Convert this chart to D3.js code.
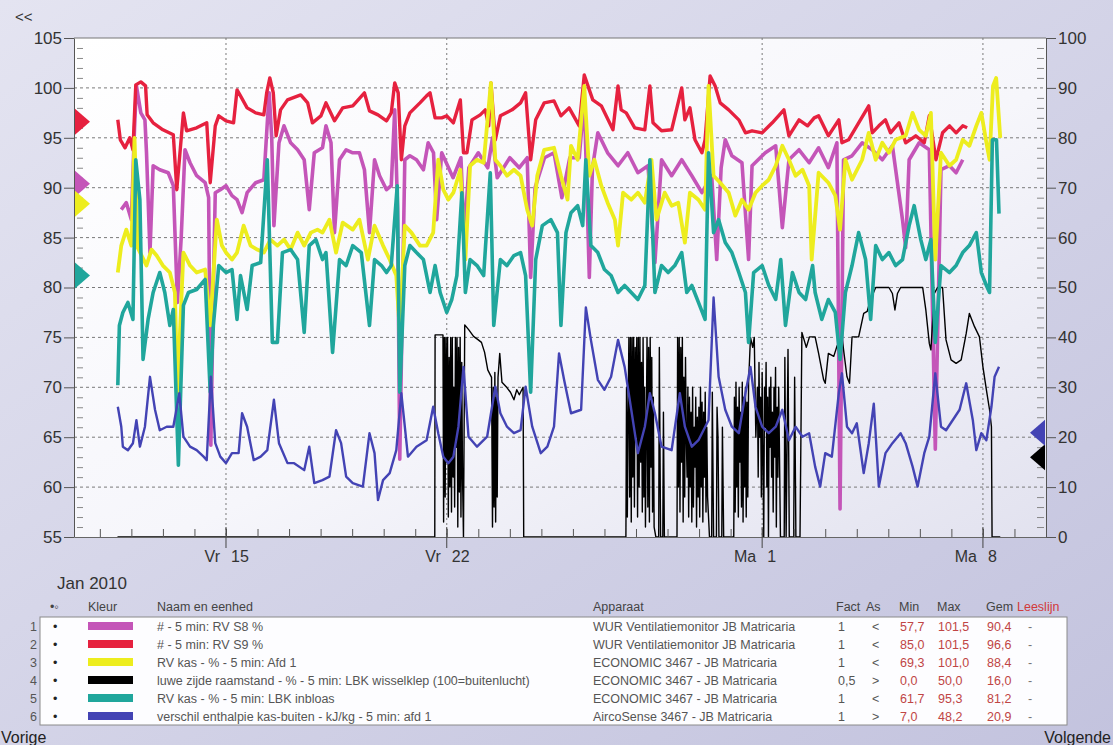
<!DOCTYPE html>
<html>
<head>
<meta charset="utf-8">
<script src="https://cdn.jsdelivr.net/npm/d3@7"></script>
<style>
body { margin: 0; background: #d4d4ea; }
svg text { font-family: "Liberation Sans", Arial, sans-serif; }
</style>
</head>
<body>
<svg id="chart" width="1113" height="745"></svg>
<script>
// ---- data (day number: 1 = 1 Jan 2010, 32 = 1 Feb 2010) ----
const rvS8 = [[11.68,87.8],[11.84,88.5],[12.0,86.8],[12.1,96],[12.16,100.2],[12.3,97.5],[12.43,96.8],[12.48,93.5],[12.59,83.5],[12.69,92.2],[12.9,91.8],[13.17,91.5],[13.33,90.2],[13.46,78.5],[13.58,85],[13.7,93.8],[13.86,92.5],[14.07,91.2],[14.34,90.5],[14.45,89],[14.52,64.2],[14.6,80],[14.66,89.5],[14.82,89.8],[15.0,90.2],[15.19,89.2],[15.35,88.8],[15.51,87.5],[15.67,89.5],[15.94,90.5],[16.2,90.8],[16.3,96],[16.37,99.5],[16.45,95],[16.52,86.2],[16.68,94.5],[16.84,96.2],[17.05,94.5],[17.27,93.8],[17.48,92.8],[17.64,87.8],[17.8,93.5],[18.06,94],
  [18.17,96.2],[18.33,94.5],[18.44,85.5],[18.6,92.8],[18.81,93.8],[19.02,93.5],[19.23,93.5],[19.39,91.8],[19.55,85.5],[19.71,92.8],[19.87,91.2],[20.09,89.8],[20.24,90.2],[20.35,97.8],[20.44,88],[20.51,62.8],[20.6,80],[20.67,92.8],[20.83,93.2],[21.04,92.8],[21.26,91.8],[21.41,94.5],[21.58,93.5],[21.68,86.8],[21.84,93.5],[22.2,91],[22.45,93],[22.55,85],[22.7,92],[23.0,93.5],[23.3,92],[23.45,95],[23.6,91],[24.0,93],[24.3,92],[24.55,93],[24.66,81],[24.8,90],[25.1,93],[25.4,93.5],[25.65,89],[25.9,93],
  [26.2,93],[26.36,99],[26.52,81],[26.62,92],[26.79,95.5],[27.1,93.5],[27.43,92.2],[27.74,93.5],[28.06,91.5],[28.38,92.2],[28.6,82.5],[28.81,92.8],[29.13,91.2],[29.45,92.8],[29.77,91.2],[30.09,89.5],[30.4,91.2],[30.56,82.8],[30.7,92],[30.83,94.8],[31.04,93.2],[31.36,92.5],[31.57,82.8],[31.68,92.2],[32.1,93.5],[32.43,94.2],[32.64,86],[32.85,92.8],[33.17,93.8],[33.49,92.5],
  [33.79,94],[34.1,92],[34.37,94.5],[34.47,57.8],[34.58,92.8],[34.85,93.2],[35.17,94.5],[35.49,93.8],[35.81,92.8],[36.13,94.2],[36.45,86.8],[36.55,84],[36.66,92.8],[36.98,94.5],[37.3,93.8],[37.49,63.8],[37.67,91.8],[37.94,92.2],[38.15,91.5],[38.36,92.8]];

const rvS9 = [[11.57,96.8],[11.65,94.8],[11.8,94],[11.95,95],[12.05,93.8],[12.14,100.3],[12.3,100.6],[12.45,100.2],[12.5,97.3],[12.69,96.5],[13.0,95.8],[13.33,95.3],[13.44,89.8],[13.65,97.5],[13.75,95.7],[14.07,96],[14.39,96.5],[14.5,90.5],[14.66,96.2],[14.77,97.2],[15.0,96.7],[15.24,96.5],[15.35,99.8],[15.46,99.2],[15.67,98],[15.94,97.5],[16.2,97.3],[16.29,99.5],[16.39,101],[16.5,99.5],[16.59,95.2],[16.73,97.8],[16.95,98.8],[17.37,99.3],[17.59,98.5],[17.74,96.5],[18.01,97.2],
  [18.17,98.5],[18.44,96.7],[18.7,98],[19.02,98.2],[19.39,99.5],[19.55,97.7],[19.82,97.3],[20.09,96.7],[20.24,97.5],[20.35,100.5],[20.46,99.5],[20.56,92.8],[20.67,96.2],[20.83,97.5],[21.15,98.5],[21.36,99.2],[21.47,99.5],[21.63,97],[21.84,97],[22.0,97.2],[22.21,96.5],[22.43,98.8],[22.53,93.5],[22.64,93.5],[22.8,96.8],[23.06,97.3],[23.22,97.8],[23.33,96.2],[23.4,100.5],[23.54,94.8],[23.7,97.2],[24.07,97.8],[24.34,98.5],[24.5,99.5],[24.66,92.8],[24.82,96.8],[25.09,98.5],[25.4,98.7],[25.62,97.2],[25.88,98],
  [26.2,96.2],[26.36,101.3],[26.52,99.8],[26.63,98.8],[26.9,98.2],[27.27,95.8],[27.43,100.2],[27.53,97.8],[27.69,97.5],[27.96,96],[28.28,95.8],[28.44,100.2],[28.54,96.5],[28.81,95.7],[29.13,95.8],[29.45,100],[29.55,96.8],[29.71,98],[29.87,94.8],[30.09,93.5],[30.19,94.8],[30.35,101.2],[30.51,100.2],[30.67,98.5],[30.94,97.8],[31.26,96.8],[31.47,95.5],[31.68,95.7],[32.0,95.5],[32.32,96.5],[32.69,97.8],[32.85,95.2],[33.17,96.8],[33.44,96.2],[33.65,97],
  [33.79,97.2],[34.1,95.2],[34.43,96.8],[34.53,94.5],[34.74,94.8],[35.06,96.5],[35.38,98.2],[35.49,95.5],[35.7,96.2],[35.91,96.8],[36.07,95.5],[36.34,96.5],[36.55,94.5],[36.87,95.2],[37.14,94.5],[37.3,97.2],[37.51,92.8],[37.72,95.5],[37.94,96.2],[38.15,95.5],[38.36,96.2],[38.5,96]];

const rvAfd1 = [[11.57,81.5],[11.68,84.2],[11.84,85.8],[12.0,84.2],[12.1,95],[12.2,84],[12.48,82.2],[12.64,83.8],[12.8,83.2],[13.0,82.2],[13.22,81.5],[13.38,79.5],[13.46,69.5],[13.65,83.5],[13.86,82.2],[14.07,81.5],[14.34,81.8],[14.5,76.2],[14.71,86.8],[14.87,84.2],[15.0,83.5],[15.19,82.8],[15.35,83.5],[15.56,86.2],[15.78,84.2],[15.99,83.8],[16.2,83.5],[16.41,84.8],[16.63,84.2],[16.84,84.8],[17.05,83.8],[17.27,85.5],[17.48,84.2],[17.69,85.5],[17.9,85.8],[18.06,85.5],
  [18.28,86.8],[18.49,83.5],[18.7,86.5],[19.02,85.8],[19.23,86.8],[19.5,82.8],[19.71,86.2],[19.98,84.2],[20.19,82.8],[20.4,81.2],[20.51,75.5],[20.67,86.2],[20.88,85.5],[21.15,84.2],[21.36,84.2],[21.57,85.5],[21.73,92.8],[21.89,89.8],[22.05,88.8],[22.21,89.5],[22.43,91.8],[22.59,82.8],[22.74,92.2],[22.96,92.8],[23.17,92.5],[23.4,100.5],[23.54,92.8],[23.7,92.2],[23.91,91.2],[24.13,91.8],[24.34,91.2],[24.55,87.8],[24.71,86.2],[24.87,91.2],[25.09,93.8],[25.4,94],[25.62,91.2],[25.83,88.8],
  [25.94,94.2],[26.15,92.8],[26.36,100.2],[26.52,91.2],[26.68,92.8],[26.9,90.2],[27.1,88.5],[27.33,86.8],[27.43,84.2],[27.59,89.5],[27.85,88.8],[28.06,89.5],[28.28,88.5],[28.49,92.8],[28.65,86.8],[28.91,89.5],[29.13,88.2],[29.34,88.5],[29.55,84.5],[29.71,89.5],[29.98,88.8],[30.19,87.8],[30.3,100.2],[30.46,91.2],[30.67,90.5],[30.94,89.5],[31.15,87.2],[31.36,88.8],[31.57,87.8],[31.79,89.5],[32.0,90.2],[32.21,90.8],[32.43,92.2],[32.64,94.2],[32.85,92.8],[33.06,91.2],[33.28,91.8],[33.49,90.2],
  [33.57,82.8],[33.79,91.5],[34.1,90.5],[34.32,89.2],[34.47,85.8],[34.64,92.8],[34.85,90.8],[35.17,92.8],[35.38,95.5],[35.6,92.8],[35.81,94.5],[36.02,93.5],[36.23,94.8],[36.55,95.2],[36.77,97.5],[36.98,95.8],[37.19,95.2],[37.35,97.5],[37.49,82.8],[37.67,93.5],[37.94,92.2],[38.15,92.8],[38.36,94.8],[38.57,94.2],[38.79,96.2],[38.95,97.5],[39.11,94.5],[39.21,92.8],[39.32,100.2],[39.42,101],[39.55,95]];

// raamstand (right axis): plain pairs plus dense bursts of 5-minute switching
const raamPairs = [[11.56,0],[21.62,0],[21.63,40.5],[21.88,40.5],
  [22.53,0],[22.57,42.5],[22.7,41.5],[22.85,40.2],[23.0,39.5],[23.1,39],[23.2,37],[23.3,33.5],[23.42,32],
  [23.68,36.8],[23.75,31],[23.9,30],[24.02,29],[24.13,27.5],[24.22,29.5],[24.3,28.5],[24.42,30],[24.44,0],[27.68,0],
  [28.63,0],[28.72,0],[28.74,38],[28.78,0],[28.85,0],[28.87,25],[28.9,0],[29.3,0],
  [30.33,0],[30.4,0],[30.42,29],[30.46,0],[30.55,0],[30.57,26],[30.6,20],[30.63,0],[30.72,0],[30.74,22],[30.78,0],[31.1,0],
  [31.63,40],[31.7,38],[31.75,40],[31.8,20],
  [32.58,0],[32.7,0],[32.72,36],[32.76,0],[32.82,37.6],[32.86,0],[33.0,0],[33.03,32],[33.07,0],[33.2,0],[33.26,41],[33.4,38],[33.5,40.1],[33.68,40.1],[33.79,36.8],[33.95,31.5],[34.0,30.8],[34.1,36.8],[34.27,36.2],[34.37,38.2],[34.53,40.1],[34.69,32.1],[34.77,30.8],[34.85,40.1],[35.06,40.1],[35.22,44.8],[35.33,45.2],[35.43,47.5],[35.6,50],[36.02,50],[36.13,48.8],[36.21,45.5],[36.29,48.8],[36.39,50],[37.09,50],[37.19,45.5],[37.3,38.8],[37.35,37.5],[37.46,48.8],[37.56,50],[37.72,50],[37.83,39.5],[37.99,35.5],[38.15,34.8],[38.31,35.5],[38.47,40.8],[38.57,44.8],[38.73,42.2],[38.89,40.1],[39.0,34.1],[39.11,29.5],[39.21,25.5],[39.27,22.1],[39.29,0],[39.55,0]];
const burstStep = 0.025;
const raamBurst1 = [21.9, [3,40,8,40,15,40,4,36,10,40,5,40,12,30,6,40,18,40,2,38,9,40,4,35,12]];
const raamBurst2 = [23.45, [2,30,6,33,3,28,8,32]];
const raamBurst3 = [27.7, [30,4,25,40,8,40,3,40,12,40,6,38,20,40,4,40,10,40,15,35,5,40,8,30,2,20,40,6,38,3,40,14,36,5,28,2]];
const raamBurst4 = [29.32, [40,10,40,5,38,15,40,3,32,8,36,20,12,30,4,28,10,25,3,30,6,22,14,28,2,24,8,26,4,30,10,27,3,25,12,29,5,22,8]];
const raamBurst5 = [31.12, [28,5,31,10,26,4,30,15,25,6,31,3,28,10,30,4,27,8,31]];
const raamBurst6 = [31.85, [30,12,35,20,28,8,33,15,0,30,22,35,10,28,0,30,18,32,12,25,5,30,16,34,2,26,12,30]];

const rvInbloas = [[11.57,70.2],[11.62,76.2],[11.73,77.5],[11.89,78.5],[12.05,76.8],[12.14,92.8],[12.27,88.8],[12.37,72.8],[12.53,76.8],[12.69,79.5],[12.9,81.5],[13.06,79.5],[13.22,76.2],[13.33,77.8],[13.49,62.2],[13.65,78.2],[13.81,79.5],[14.07,79.8],[14.34,80.8],[14.5,69.5],[14.6,76.2],[14.77,82.2],[15.0,81.5],[15.19,81.8],[15.35,76.8],[15.46,81.2],[15.67,77.8],[15.83,82.2],[16.1,82.5],[16.31,92.8],[16.47,74.5],[16.63,74.5],[16.79,83.5],[17.05,83.8],[17.27,82.8],[17.48,75.5],[17.64,84.2],[17.85,84.8],[18.06,82.8],
  [18.17,83.5],[18.38,73.5],[18.6,82.8],[18.81,82.2],[19.02,84.2],[19.29,83.5],[19.55,76.2],[19.71,82.8],[19.93,82.2],[20.09,81.5],[20.24,82.2],[20.43,90.2],[20.51,69.5],[20.67,82.2],[20.83,84.2],[21.04,83.5],[21.26,82.8],[21.47,79.5],[21.63,82.2],[21.79,79.5],[22.0,77.5],[22.16,78.8],[22.32,81.2],[22.48,89.5],[22.59,79.5],[22.74,82.8],[22.96,82.2],[23.17,81.2],[23.38,91.5],[23.49,76.2],[23.7,82.8],[23.91,82.2],[24.13,83.2],[24.34,83.5],[24.5,81.2],[24.66,69.5],[24.82,82.8],[25.03,86.2],[25.3,86.8],[25.51,85.5],[25.62,76.2],[25.78,85.5],[25.94,87.5],
  [26.15,88.2],[26.31,86.2],[26.41,92.8],[26.57,84.2],[26.79,83.5],[27.0,81.8],[27.21,81.2],[27.43,79.5],[27.64,80.2],[27.85,79.5],[28.06,78.8],[28.28,80.2],[28.44,92.8],[28.6,79.5],[28.81,82.2],[29.02,81.5],[29.23,82.2],[29.45,83.5],[29.61,79.5],[29.77,80.2],[29.98,78.5],[30.19,76.8],[30.3,93.5],[30.46,85.5],[30.62,86.8],[30.83,84.5],[31.04,83.5],[31.26,81.5],[31.47,79.5],[31.57,74.5],[31.73,81.5],[32.0,82.2],[32.21,80.2],[32.43,78.8],[32.59,82.8],[32.74,76.2],[32.96,81.5],[33.17,79.5],[33.38,78.8],[33.6,82.2],
  [33.68,79.5],[33.89,76.8],[34.1,78.8],[34.32,77.5],[34.47,72.8],[34.64,79.5],[34.85,82.2],[35.06,85.5],[35.28,82.8],[35.44,76.8],[35.6,84.2],[35.81,82.8],[36.02,83.5],[36.23,82.2],[36.45,82.8],[36.66,86.2],[36.82,88.2],[37.03,84.8],[37.19,82.8],[37.35,84.8],[37.49,74.5],[37.67,82.2],[37.94,81.5],[38.15,82.2],[38.36,83.5],[38.57,84.2],[38.79,85.5],[38.95,81.5],[39.11,80.2],[39.21,79.5],[39.3,94.8],[39.43,94.8],[39.51,87.4]];

const enthalpie = [[11.57,26.1],[11.68,22.1],[11.73,18.1],[11.89,17.4],[12.05,18.8],[12.16,23.4],[12.27,18.1],[12.43,22.1],[12.59,32.1],[12.75,25.5],[12.9,21.4],[13.12,22.1],[13.33,22.1],[13.52,28.8],[13.65,20.1],[13.86,18.1],[14.07,17.4],[14.29,16.1],[14.39,15.4],[14.52,32.1],[14.66,18.8],[14.82,16.1],[15.0,14.8],[15.19,16.8],[15.4,16.8],[15.51,24.8],[15.67,22.1],[15.88,15.4],[16.1,16.1],[16.31,17.4],[16.52,27.5],[16.68,18.8],[16.95,14.8],[17.16,14.8],[17.48,13.4],[17.64,18.1],[17.8,10.8],[18.06,11.4],
  [18.28,12.1],[18.49,21.4],[18.65,18.8],[18.81,12.1],[19.02,10.8],[19.34,10.1],[19.55,20.8],[19.71,16.8],[19.82,7.4],[19.98,11.4],[20.19,12.8],[20.4,17.4],[20.56,28.8],[20.77,16.1],[21.04,18.1],[21.36,19.4],[21.57,26.1],[21.73,20.8],[21.89,16.1],[22.05,14.8],[22.21,16.1],[22.37,22.1],[22.53,34.1],[22.69,20.1],[22.96,18.1],[23.28,20.1],[23.54,30.1],[23.7,24.8],[23.91,22.1],[24.13,20.8],[24.34,21.4],[24.5,30.1],[24.71,22.1],[24.98,16.8],[25.19,18.1],[25.4,22.1],[25.56,36.8],[25.72,31.5],[25.94,24.8],
  [26.26,25.5],[26.41,46],[26.57,39.5],[26.79,31.5],[27.0,29.5],[27.21,32.1],[27.43,39.5],[27.64,34.1],[27.85,25.5],[28.06,16.8],[28.28,22.1],[28.44,28.8],[28.6,24.8],[28.81,18.1],[29.13,17.4],[29.39,28.8],[29.55,22.1],[29.77,18.1],[29.98,19.4],[30.3,23.4],[30.46,48],[30.62,32.1],[30.83,25.5],[31.04,22.1],[31.26,20.8],[31.47,28.8],[31.63,34.1],[31.79,26.1],[32.0,22.1],[32.21,20.8],[32.43,22.1],[32.64,25.5],[32.85,19.4],[33.06,22.1],[33.28,20.1],[33.49,20.8],
  [33.68,14.1],[33.84,10.1],[34.0,16.8],[34.21,16.1],[34.43,28.8],[34.53,32.8],[34.69,22.1],[34.85,20.8],[35.0,22.8],[35.22,12.8],[35.38,18.8],[35.54,26.7],[35.7,10.1],[35.91,16.8],[36.13,18.8],[36.39,20.8],[36.55,18.8],[36.77,14.1],[36.93,10.1],[37.14,16.8],[37.3,20.1],[37.49,32.8],[37.67,22.1],[37.83,21.4],[38.04,23.4],[38.26,25.5],[38.47,30.8],[38.68,23.4],[38.79,17.4],[38.95,20.8],[39.11,19.4],[39.27,26.1],[39.37,32.1],[39.51,34.1]];

// legend table
const legendNames = ["# - 5 min: RV S8  %", "# - 5 min: RV S9  %", "RV kas - % - 5 min: Afd 1",
  "luwe zijde raamstand - % - 5 min: LBK wisselklep (100=buitenlucht)", "RV kas - % - 5 min: LBK inbloas",
  "verschil enthalpie kas-buiten - kJ/kg - 5 min: afd 1"];
const legendDevices = ["WUR Ventilatiemonitor JB Matricaria", "WUR Ventilatiemonitor JB Matricaria",
  "ECONOMIC 3467 - JB Matricaria", "ECONOMIC 3467 - JB Matricaria", "ECONOMIC 3467 - JB Matricaria",
  "AircoSense 3467 - JB Matricaria"];
const legendFact = ["1", "1", "1", "0,5", "1", "1"];
const legendAxis = ["<", "<", "<", ">", "<", ">"];
const legendMin = [57.7, 85.0, 69.3, 0.0, 61.7, 7.0];
const legendMax = [101.5, 101.5, 101.0, 50.0, 95.3, 48.2];
const legendAvg = [90.4, 96.6, 88.4, 16.0, 81.2, 20.9];

const leftTicks = [55, 60, 65, 70, 75, 80, 85, 90, 95, 100, 105];
const rightTicks = [0, 10, 20, 30, 40, 50, 60, 70, 80, 90, 100];
const weekDays = [15, 22, 32, 39];
const weekDayNames = ["Vr", "Vr", "Ma", "Ma"];
const weekDayNums = ["15", "22", "1", "8"];

// ---- drawing ----
const colors = ["#c455b8", "#e6213f", "#eded1e", "#000000", "#20a69c", "#4343b4"];
const widths = [3.6, 3.4, 3.8, 1.4, 3.6, 2.4];

const plotL = 74, plotR = 1046, plotT = 38, plotB = 537;
const jan1 = new Date(2010, 0, 1).getTime();
function toDate(d) { return new Date(jan1 + (d - 1) * 864e5); }

var svg = d3.select("#chart");
var defs = svg.append("defs");

var bg = defs.append("linearGradient").attr("id", "bg")
    .attr("x1", 0).attr("y1", 0).attr("x2", 1).attr("y2", 1);
bg.append("stop").attr("offset", "0%").attr("stop-color", "#e4e4f1");
bg.append("stop").attr("offset", "100%").attr("stop-color", "#c3c3de");

var pg = defs.append("linearGradient").attr("id", "pg")
    .attr("x1", 0).attr("y1", 0).attr("x2", 1).attr("y2", 1);
pg.append("stop").attr("offset", "0%").attr("stop-color", "#ffffff");
pg.append("stop").attr("offset", "55%").attr("stop-color", "#f6f6fb");
pg.append("stop").attr("offset", "100%").attr("stop-color", "#e2e2ef");

defs.append("clipPath").attr("id", "clip")
  .append("rect").attr("x", plotL).attr("y", plotT)
  .attr("width", plotR - plotL).attr("height", plotB - plotT);

svg.append("rect").attr("width", 1113).attr("height", 745).attr("fill", "url(#bg)");
svg.append("rect").attr("x", plotL).attr("y", plotT)
    .attr("width", plotR - plotL).attr("height", plotB - plotT).attr("fill", "url(#pg)");

var x = d3.scaleTime()
    .domain([toDate(10.181), toDate(41)])
    .range([plotL, plotR]);
var yL = d3.scaleLinear().domain([55, 105]).range([plotB, plotT]);
var yR = d3.scaleLinear().domain([0, 100]).range([plotB, plotT]);

// gridlines
svg.append("g").selectAll("line")
    .data(leftTicks.filter(function (v) { return v > 55 && v < 105; }))
    .enter().append("line")
    .attr("x1", plotL).attr("x2", plotR)
    .attr("y1", function (d) { return yL(d); }).attr("y2", function (d) { return yL(d); })
    .attr("stroke", "#7a7a7a").attr("stroke-dasharray", "3,3");
svg.append("g").selectAll("line")
    .data(weekDays)
    .enter().append("line")
    .attr("x1", function (d) { return x(toDate(d)); }).attr("x2", function (d) { return x(toDate(d)); })
    .attr("y1", plotT).attr("y2", plotB)
    .attr("stroke", "#7a7a7a").attr("stroke-dasharray", "2,3");

// build raamstand series
var raam = raamPairs.slice();
[raamBurst1, raamBurst2, raamBurst3, raamBurst4, raamBurst5, raamBurst6].forEach(function (b) {
    b[1].forEach(function (v, i) { raam.push([b[0] + i * burstStep, v]); });
});
raam.sort(function (a, b) { return a[0] - b[0]; });

var series = [rvS8, rvS9, rvAfd1, raam, rvInbloas, enthalpie];

var lines = svg.append("g").attr("clip-path", "url(#clip)");
series.forEach(function (data, i) {
    var ys = legendAxis[i] == "<" ? yL : yR;
    var line = d3.line()
        .x(function (d) { return x(toDate(d[0])); })
        .y(function (d) { return ys(d[1]); });
    lines.append("path")
        .datum(data)
        .attr("d", line)
        .attr("fill", "none")
        .attr("stroke", colors[i])
        .attr("stroke-width", widths[i])
        .attr("stroke-linejoin", "round");
});

// plot frame
svg.append("line").attr("x1", plotL).attr("x2", plotR).attr("y1", plotT).attr("y2", plotT)
    .attr("stroke", "#777");

// left axis
var leftAxis = svg.append("g")
    .attr("transform", "translate(" + plotL + ",0)")
    .call(d3.axisLeft(yL).tickValues(leftTicks).tickSize(10).tickSizeOuter(0));
leftAxis.select(".domain").attr("stroke", "#555");
leftAxis.selectAll(".tick line").attr("stroke", "#555");
leftAxis.selectAll("text").attr("font-size", "17px").attr("fill", "#333").attr("x", -12);

svg.append("g")
    .attr("transform", "translate(" + (plotL + 3) + ",0)")
    .call(d3.axisRight(yL).tickValues(d3.range(56, 105).filter(function (v) { return v % 5 != 0; }))
        .tickSize(6).tickFormat(""))
    .call(function (g) { g.select(".domain").remove(); })
    .selectAll("line").attr("stroke", "#888");

// right axis
var rightAxis = svg.append("g")
    .attr("transform", "translate(" + plotR + ",0)")
    .call(d3.axisRight(yR).tickValues(rightTicks).tickSize(10).tickSizeOuter(0));
rightAxis.select(".domain").attr("stroke", "#555");
rightAxis.selectAll(".tick line").attr("stroke", "#555");
rightAxis.selectAll("text").attr("font-size", "17px").attr("fill", "#333").attr("x", 12);

svg.append("g")
    .attr("transform", "translate(" + (plotR - 2) + ",0)")
    .call(d3.axisLeft(yR).tickValues(d3.range(2, 100, 2).filter(function (v) { return v % 10 != 0; }))
        .tickSize(7).tickFormat(""))
    .call(function (g) { g.select(".domain").remove(); })
    .selectAll("line").attr("stroke", "#888");

// bottom axis
var bottom = svg.append("g")
    .attr("transform", "translate(0," + plotB + ")")
    .call(d3.axisTop(x).ticks(d3.timeDay.every(1)).tickSize(8).tickFormat("").tickSizeOuter(0));
bottom.select(".domain").attr("stroke", "#666");
bottom.selectAll("line").attr("stroke", "#555");

svg.append("g").selectAll("line")
    .data(weekDays)
    .enter().append("line")
    .attr("x1", function (d) { return x(toDate(d)); }).attr("x2", function (d) { return x(toDate(d)); })
    .attr("y1", plotB - 10).attr("y2", plotB + 11)
    .attr("stroke", "#444");

var xl = svg.append("g").attr("font-size", "16px").attr("fill", "#333");
xl.selectAll(".wd").data(weekDays).enter().append("text")
    .attr("x", function (d) { return x(toDate(d)) - 6; }).attr("y", plotB + 25)
    .attr("text-anchor", "end")
    .text(function (d, i) { return weekDayNames[i]; });
xl.selectAll(".wn").data(weekDays).enter().append("text")
    .attr("x", function (d) { return x(toDate(d)) + 5; }).attr("y", plotB + 25)
    .text(function (d, i) { return weekDayNums[i]; });

// average markers
var markers = svg.append("g");
legendAvg.forEach(function (v, i) {
    var left = legendAxis[i] == "<";
    var yy = left ? yL(v) : yR(v);
    var bx = left ? plotL + 1 : plotR - 1;
    var tip = left ? bx + 15 : bx - 15;
    markers.append("path")
        .attr("d", "M" + bx + "," + (yy - 13) + "L" + tip + "," + yy + "L" + bx + "," + (yy + 13) + "Z")
        .attr("fill", colors[i]);
});

// texts around
svg.append("text").attr("x", 15).attr("y", 22).attr("font-size", "15px").attr("fill", "#333").text("<<");
svg.append("text").attr("x", 57).attr("y", 589).attr("font-size", "17px").attr("fill", "#333").text("Jan 2010");
svg.append("text").attr("x", 1).attr("y", 743).attr("font-size", "16px").attr("fill", "#222").text("Vorige");
svg.append("text").attr("x", 1111).attr("y", 743).attr("text-anchor", "end")
    .attr("font-size", "16px").attr("fill", "#222").text("Volgende");

// legend table
var lg = svg.append("g").attr("font-size", "12.5px");
lg.append("rect").attr("x", 40).attr("y", 617).attr("width", 1027).attr("height", 108)
    .attr("fill", "#fdfdff").attr("stroke", "#8a8a8a");

var hy = 611;
var header = [[50, "\u2022\u25e6"], [88, "Kleur"], [157, "Naam en eenhed"], [593, "Apparaat"],
    [836, "Fact"], [866, "As"], [899, "Min"], [937, "Max"], [986, "Gem"]];
header.forEach(function (h) {
    lg.append("text").attr("x", h[0]).attr("y", hy).attr("fill", "#444").text(h[1]);
});
lg.append("text").attr("x", 1017).attr("y", hy).attr("fill", "#d23a3a").text("Leeslijn");

var fmt = function (v) { return d3.format(".1f")(v).replace(".", ","); };
legendNames.forEach(function (name, i) {
    var cy = 626 + i * 18;
    var by = cy + 4.5;
    lg.append("text").attr("x", 37).attr("y", by).attr("text-anchor", "end").attr("fill", "#555").text(i + 1);
    lg.append("text").attr("x", 53).attr("y", by).attr("fill", "#222").text("\u2022");
    lg.append("rect").attr("x", 88).attr("y", cy - 4).attr("width", 45).attr("height", 8).attr("fill", colors[i]);
    lg.append("text").attr("x", 157).attr("y", by).attr("fill", "#555").text(name);
    lg.append("text").attr("x", 593).attr("y", by).attr("fill", "#555").text(legendDevices[i]);
    lg.append("text").attr("x", 838).attr("y", by).attr("fill", "#555").text(legendFact[i]);
    lg.append("text").attr("x", 872).attr("y", by).attr("fill", "#555").text(legendAxis[i]);
    lg.append("text").attr("x", 900).attr("y", by).attr("fill", "#c04545").text(fmt(legendMin[i]));
    lg.append("text").attr("x", 938).attr("y", by).attr("fill", "#c04545").text(fmt(legendMax[i]));
    lg.append("text").attr("x", 987).attr("y", by).attr("fill", "#c04545").text(fmt(legendAvg[i]));
    lg.append("text").attr("x", 1028).attr("y", by).attr("fill", "#777").text("-");
});
</script>
</body>
</html>
